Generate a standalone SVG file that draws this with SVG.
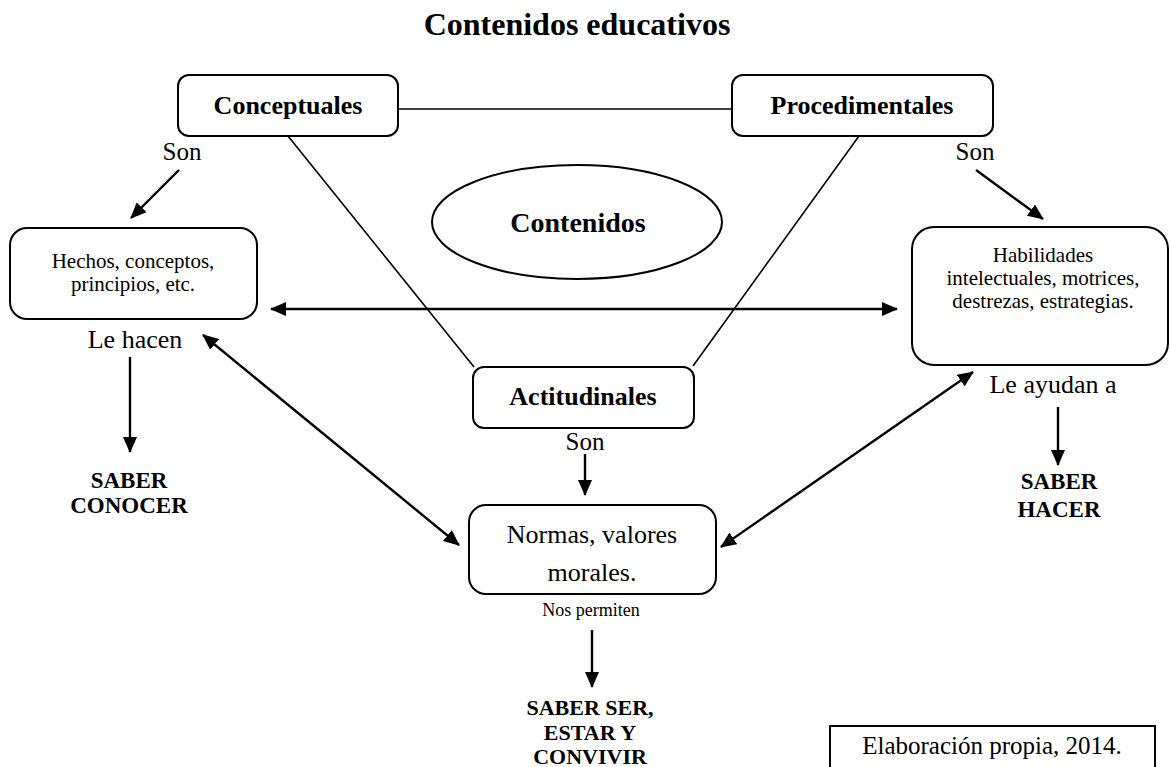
<svg xmlns="http://www.w3.org/2000/svg" width="1171" height="767" viewBox="0 0 1171 767">
<style>
text{font-family:"Liberation Serif","Times New Roman",serif;fill:#000;text-anchor:middle}
.b{font-weight:bold}
.box{fill:#fff;stroke:#000;stroke-width:2}
.ln{stroke:#000;stroke-width:1.6;fill:none}
.ar{stroke:#000;stroke-width:2.4;fill:none}
</style>
<defs>
<marker id="ah" viewBox="0 0 16 14" refX="15" refY="7" markerWidth="16" markerHeight="14" markerUnits="userSpaceOnUse" orient="auto-start-reverse">
<path d="M0,0 L16,7 L0,14 z" fill="#000"/>
</marker>
</defs>
<rect width="1171" height="767" fill="#fff"/>
<text class="b" x="577" y="35" font-size="32">Contenidos educativos</text>

<g id="connectors">
<line class="ln" x1="398" y1="109" x2="732" y2="109"/>
<line class="ln" x1="288" y1="136" x2="474" y2="367"/>
<line class="ln" x1="859" y1="136" x2="693" y2="366"/>
<line class="ar" x1="179" y1="170" x2="131" y2="218" marker-end="url(#ah)"/>
<line class="ar" x1="976" y1="170" x2="1043" y2="219" marker-end="url(#ah)"/>
<line class="ar" x1="271" y1="309" x2="897" y2="309" marker-start="url(#ah)" marker-end="url(#ah)"/>
<line class="ar" x1="130" y1="357" x2="130" y2="452" marker-end="url(#ah)"/>
<line class="ar" x1="585" y1="454" x2="585" y2="495" marker-end="url(#ah)"/>
<line class="ar" x1="592" y1="630" x2="592" y2="687" marker-end="url(#ah)"/>
<line class="ar" x1="1058" y1="407" x2="1058" y2="465" marker-end="url(#ah)"/>
<line class="ar" x1="203" y1="335" x2="459" y2="545" marker-start="url(#ah)" marker-end="url(#ah)"/>
<line class="ar" x1="973" y1="372" x2="721" y2="547" marker-start="url(#ah)" marker-end="url(#ah)"/>
</g>

<g id="conceptuales">
<rect class="box" x="178" y="75" width="220" height="61" rx="11"/>
<text class="b" x="288" y="114" font-size="26">Conceptuales</text>
</g>
<g id="procedimentales">
<rect class="box" x="732" y="75" width="261" height="61" rx="11"/>
<text class="b" x="862" y="114" font-size="26">Procedimentales</text>
</g>
<g id="contenidos">
<ellipse class="box" cx="577" cy="222" rx="145" ry="57"/>
<text class="b" x="578" y="232" font-size="28">Contenidos</text>
</g>
<g id="son-left"><text x="182" y="160" font-size="25">Son</text></g>
<g id="son-right"><text x="975" y="160" font-size="25">Son</text></g>
<g id="hechos">
<rect class="box" x="10" y="228" width="247" height="91" rx="17"/>
<text x="133" y="268" font-size="21">Hechos, conceptos,</text>
<text x="133" y="291" font-size="21">principios, etc.</text>
</g>
<g id="habilidades">
<rect class="box" x="912" y="227" width="256" height="138" rx="22"/>
<text x="1043" y="262" font-size="21">Habilidades</text>
<text x="1043" y="285" font-size="21">intelectuales, motrices,</text>
<text x="1043" y="308" font-size="21">destrezas, estrategias.</text>
</g>
<g id="le-hacen"><text x="135" y="348" font-size="26">Le hacen</text></g>
<g id="saber-conocer">
<text class="b" x="129" y="488" font-size="23">SABER</text>
<text class="b" x="129" y="513" font-size="23">CONOCER</text>
</g>
<g id="actitudinales">
<rect class="box" x="473" y="367" width="221" height="61" rx="11"/>
<text class="b" x="583" y="405" font-size="26">Actitudinales</text>
</g>
<g id="son-center"><text x="585" y="450" font-size="25">Son</text></g>
<g id="normas">
<rect class="box" x="469" y="505" width="247" height="89" rx="17"/>
<text x="592" y="543" font-size="26">Normas, valores</text>
<text x="592" y="581" font-size="26">morales.</text>
</g>
<g id="nos-permiten"><text x="591" y="616" font-size="18">Nos permiten</text></g>
<g id="saber-ser">
<text class="b" x="590" y="715" font-size="22">SABER SER,</text>
<text class="b" x="590" y="740" font-size="22">ESTAR Y</text>
<text class="b" x="590" y="764" font-size="22">CONVIVIR</text>
</g>
<g id="le-ayudan"><text x="1053" y="393" font-size="26">Le ayudan a</text></g>
<g id="saber-hacer">
<text class="b" x="1059" y="489" font-size="23">SABER</text>
<text class="b" x="1059" y="517" font-size="23">HACER</text>
</g>
<g id="elaboracion">
<rect x="830" y="726" width="325" height="60" fill="#fff" stroke="#000" stroke-width="2"/>
<text x="992" y="754" font-size="25">Elaboración propia, 2014.</text>
</g>
</svg>
